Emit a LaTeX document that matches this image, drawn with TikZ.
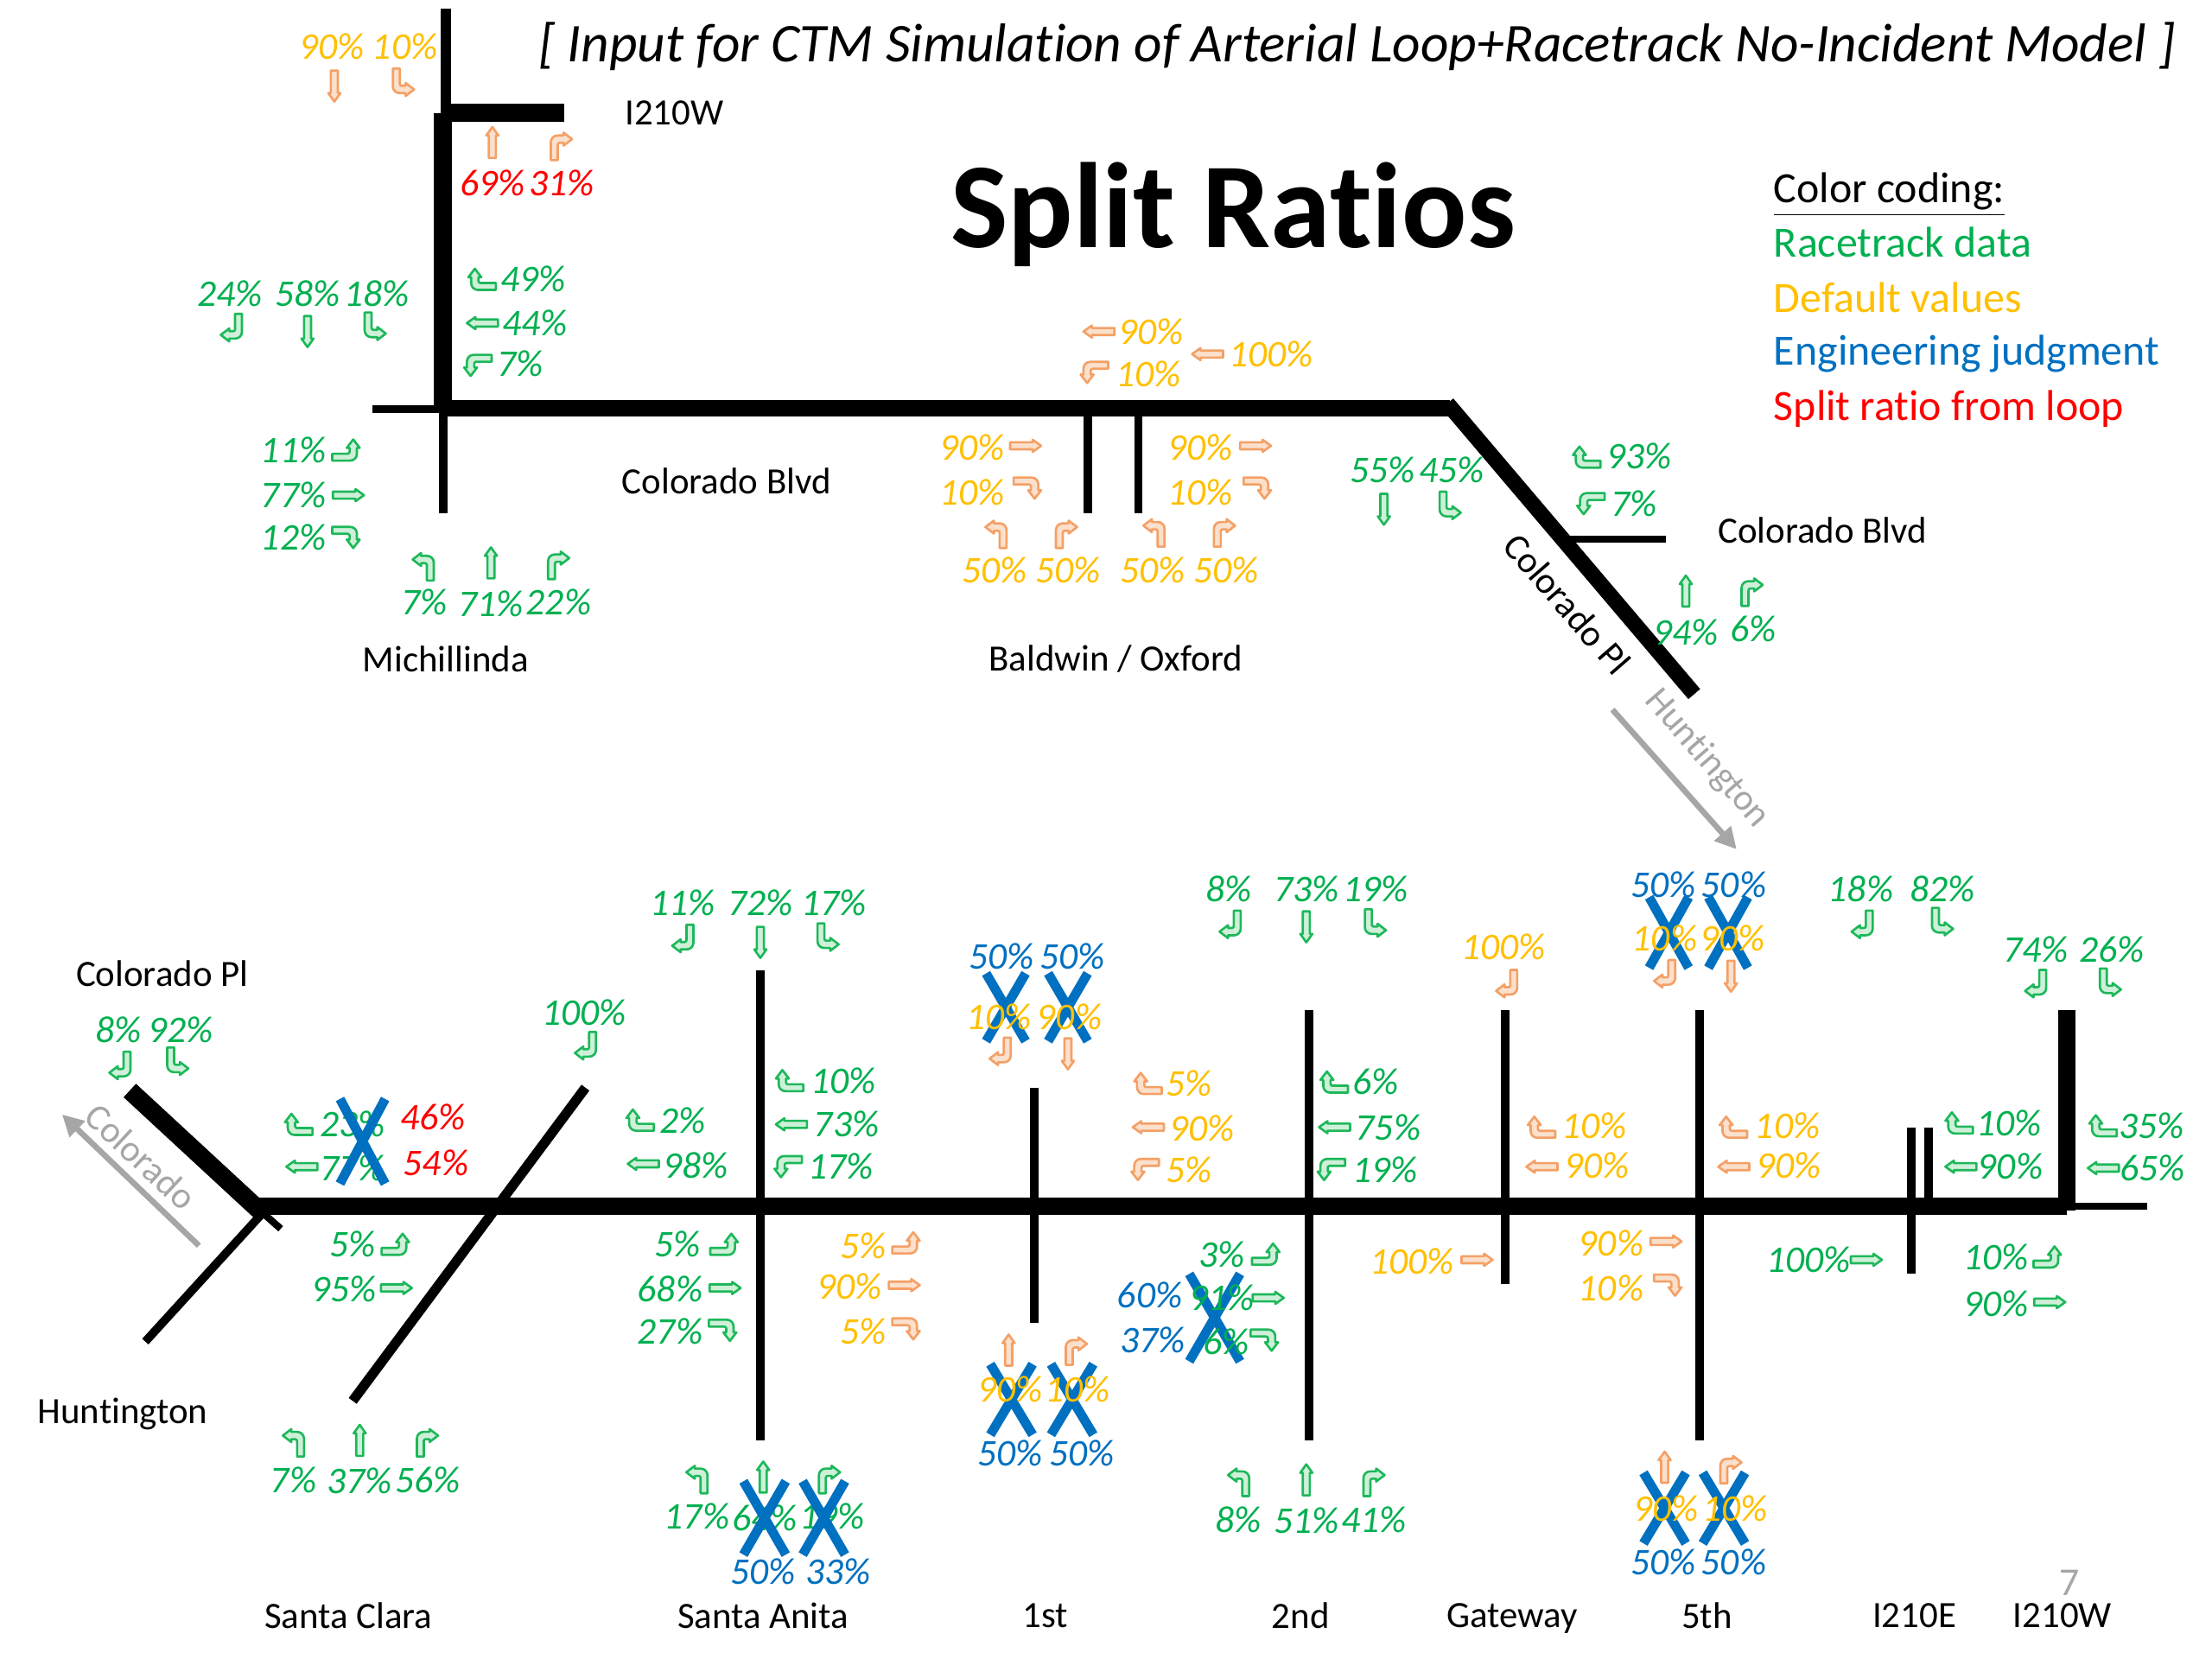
\documentclass[tikz,border=0pt]{standalone}
\usepackage{fontspec}
\setmainfont{Carlito}[Ligatures=NoCommon]
\usetikzlibrary{arrows.meta}
\definecolor{cG}{HTML}{00B050}
\definecolor{cY}{HTML}{FFC000}
\definecolor{cB}{HTML}{0070C0}
\definecolor{cR}{HTML}{FF0000}
\definecolor{aGl}{HTML}{1DB85A}
\definecolor{aGf}{HTML}{CFF0D8}
\definecolor{aOl}{HTML}{F4A066}
\definecolor{aOf}{HTML}{FBE0CC}
\definecolor{cGray}{HTML}{A6A6A6}
\newcounter{tn}
\tikzset{
 tU/.style={}, tD/.style={rotate=180}, tL/.style={rotate=90}, tR/.style={rotate=-90},
 tUR/.style={}, tUL/.style={xscale=-1}, tDL/.style={rotate=180}, tDR/.style={yscale=-1},
 tLU/.style={rotate=90}, tLD/.style={yscale=-1,rotate=90}, tRU/.style={xscale=-1,rotate=90}, tRD/.style={rotate=-90},
 arrG/.style={draw=aGl,fill=aGf,line width=0.75pt,line join=round},
 arrO/.style={draw=aOl,fill=aOf,line width=0.75pt,line join=round},
 pct/.style={font=\fontsize{12.4}{14}\selectfont\itshape,inner sep=0pt},
 lbl/.style={font=\fontsize{12.2}{14}\selectfont,inner sep=0pt,text=black},
 leg/.style={font=\fontsize{14.2}{17}\selectfont,inner sep=0pt,anchor=west},
 road/.style={draw=black,line width=#1*0.4646pt},
 xmark/.style={draw=cB,line width=3.1pt},
 grayarrow/.style={draw=cGray,line width=1.9pt,-{Triangle[length=7pt,width=7pt]}},
}
% turning arrow: type, colour style, position
\newcommand{\TA}[4]{\path[shift={(#2,#3)},#4,#1] (-7.5,9.5)
 [rounded corners=2.2pt] -- (-7.5,-8) [sharp corners] -- (1.5,-8) -- (1.5,-10) -- (7.5,-5.4) -- (1.5,-0.8) -- (1.5,-2.8)
 [rounded corners=0.6pt] -- (-2.6,-2.8) [sharp corners] -- (-2.6,9.5) -- cycle;}
% straight arrow
\newcommand{\SA}[4]{\path[shift={(#2,#3)},#4,#1] (-2.5,11) -- (-2.5,-5) -- (-4.3,-5) -- (0,-11) -- (4.3,-5) -- (2.5,-5) -- (2.5,11) -- cycle;}
\newcommand{\GT}[3]{\TA{t#1}{#2}{#3}{arrG}}
\newcommand{\OT}[3]{\TA{t#1}{#2}{#3}{arrO}}
\newcommand{\GS}[3]{\SA{t#1}{#2}{#3}{arrG}}
\newcommand{\OS}[3]{\SA{t#1}{#2}{#3}{arrO}}
\newcommand{\Pc}[4]{\stepcounter{tn}\node[pct,text=c#1] (t\thetn) at (#2,#3) {#4\%};}
\newcommand{\XX}[4]{\draw[xmark] (#1-#3,#2-#4) -- (#1+#3,#2+#4) (#1+#3,#2-#4) -- (#1-#3,#2+#4);}
\begin{document}
\begin{tikzpicture}[x=0.0163265cm,y=-0.0163265cm]
\useasboundingbox (0,0) rectangle (1568,1176);
\fill[white] (0,0) rectangle (1568,1176);
% crosses beneath the text
\XX{713}{714}{14}{24}\XX{757}{714}{14}{24}
\XX{717}{992}{15}{25}\XX{760}{992}{15}{25}
\XX{861}{934}{18}{31}
\XX{1183}{661}{14}{25}\XX{1225}{661}{14}{25}
\XX{1180}{1069}{15}{25}\XX{1222}{1069}{15}{25}
% upper network
\draw[road=7] (316,6) -- (316,80);
\draw[road=12.5] (314,80) -- (314,290);
\draw[road=12.7] (316,80) -- (400,80);
\draw[road=6] (264,290) -- (316,290);
\draw[road=12] (314,289.5) -- (1028,289.5);
\draw[road=6] (314,290) -- (314,364);
\draw[road=11] (1026,286) -- (1201,492);
\draw[road=5] (1113,382) -- (1181,382);
\draw[road=6] (771,292) -- (771,364);
\draw[road=6] (807,292) -- (807,364);
\draw[grayarrow] (1143,503) -- (1231,602);
\node[lbl,rotate=-49] (colpl) at (1111,428) {Colorado Pl};
\node[lbl,rotate=-49,text=cGray] (hunt) at (1210,538) {Huntington};
% lower network
\draw[road=12] (182,855) -- (1465,855);
\draw[road=5] (1465,855) -- (1522,855);
\draw[road=13] (92,773) -- (185,859);
\draw[road=5] (182,856) -- (199,871);
\draw[road=6] (103,951) -- (186,860);
\draw[road=7] (250,993) -- (415,771);
\draw[road=6] (539,688) -- (539,1021);
\draw[road=6] (733,771) -- (733,938);
\draw[road=6] (928,716) -- (928,1021);
\draw[road=6] (1067,716) -- (1067,910);
\draw[road=6] (1205,716) -- (1205,1021);
\draw[road=6] (1355,799) -- (1355,903);
\draw[road=6] (1367,799) -- (1367,855);
\draw[road=12] (1465,716) -- (1465,858);
\draw[grayarrow] (141,883) -- (44,790);
\node[lbl,rotate=-43,text=cGray] (colo) at (100,820) {Colorado};
% title
\node[inner sep=0pt,font=\fontsize{18}{20}\selectfont\itshape] (head) at (962,33) {[ Input for CTM Simulation of Arterial Loop+Racetrack No-Incident Model ]};
\node[inner sep=0pt,font=\fontsize{40}{46}\selectfont\bfseries] (title) at (874,152) {Split Ratios};
\node[leg,text=black] (lg0) at (1257,138) {\underline{Color coding:}};
\node[leg,text=cG] (lg1) at (1257,172) {Racetrack data};
\node[leg,text=cY] (lg2) at (1257,211) {Default values};
\node[leg,text=cB] (lg3) at (1257,251) {Engineering judgment};
\node[leg,text=cR] (lg4) at (1257,290) {Split ratio from loop};
% names
\node[lbl] (a1) at (478,80) {I210W};
\node[lbl] (a2) at (316,467) {Michillinda};
\node[lbl] (a3) at (515,341) {Colorado Blvd};
\node[lbl] (a4) at (791,467) {Baldwin / Oxford};
\node[lbl] (a5) at (1292,376) {Colorado Blvd};
\node[lbl] (a6) at (115,690) {Colorado Pl};
\node[lbl] (a7) at (87,1002) {Huntington};
\node[lbl] (a8) at (247,1145) {Santa Clara};
\node[lbl] (a9) at (541,1145) {Santa Anita};
\node[lbl] (a10) at (741,1145) {1st};
\node[lbl] (a11) at (922,1145) {2nd};
\node[lbl] (a12) at (1072,1147) {Gateway};
\node[lbl] (a13) at (1210,1145) {5th};
\node[lbl] (a14) at (1357,1145) {I210E};
\node[lbl] (a15) at (1462,1145) {I210W};
\node[inner sep=0pt,text=cGray,font=\fontsize{13}{15}\selectfont] (pg) at (1467,1122) {7};
% I210W / top approach
\Pc{Y}{235}{33}{90}\Pc{Y}{287}{33}{10}
\OS{D}{237}{61}\OT{DR}{286}{58}
\Pc{R}{349}{130}{69}\Pc{R}{398}{130}{31}
\OS{U}{349}{101}\OT{UR}{398}{104}
% Michillinda
\Pc{G}{378}{198}{49}\Pc{G}{379}{229}{44}\Pc{G}{369}{258}{7}
\GT{LU}{342}{198}\GS{L}{342}{229}\GT{LD}{339}{259}
\Pc{G}{163}{208}{24}\Pc{G}{218}{208}{58}\Pc{G}{267}{208}{18}
\GT{DL}{164}{232}\GS{D}{218}{235}\GT{DR}{266}{231}
\Pc{G}{208}{319}{11}\Pc{G}{208}{351}{77}\Pc{G}{208}{381}{12}
\GT{RU}{245}{319}\GS{R}{247}{351}\GT{RD}{245}{381}
\Pc{G}{301}{427}{7}\Pc{G}{348}{428}{71}\Pc{G}{396}{427}{22}
\GT{UL}{300}{402}\GS{U}{348}{399}\GT{UR}{396}{401}
% Baldwin / Oxford
\Pc{Y}{816}{235}{90}\OS{L}{779}{235}
\Pc{Y}{814}{265}{10}\OT{LD}{776}{264}
\Pc{Y}{901}{251}{100}\OS{L}{856}{251}
\Pc{Y}{689}{317}{90}\OS{R}{727}{316}
\Pc{Y}{689}{349}{10}\OT{RD}{728}{346}
\Pc{Y}{851}{317}{90}\OS{R}{890}{316}
\Pc{Y}{851}{349}{10}\OT{RD}{891}{346}
\OT{UL}{706}{379}\OT{UR}{756}{379}\OT{UL}{818}{378}\OT{UR}{868}{378}
\Pc{Y}{705}{404}{50}\Pc{Y}{757}{404}{50}\Pc{Y}{817}{404}{50}\Pc{Y}{869}{404}{50}
% Colorado Blvd / Colorado Pl
\Pc{G}{980}{333}{55}\Pc{G}{1029}{333}{45}
\GS{D}{981}{361}\GT{DR}{1028}{358}
\Pc{G}{1162}{323}{93}\GT{LU}{1125}{324}
\Pc{G}{1158}{357}{7}\GT{LD}{1128}{357}
\Pc{G}{1195}{448}{94}\Pc{G}{1243}{446}{6}
\GS{U}{1195}{419}\GT{UR}{1242}{420}
% Colorado Pl (lower left)
\Pc{G}{84}{730}{8}\Pc{G}{128}{730}{92}
\GT{DL}{85}{755}\GT{DR}{126}{752}
\Pc{G}{414}{718}{100}\GT{DL}{415}{741}
% Santa Clara
\Pc{G}{250}{797}{23}\Pc{G}{250}{828}{77}
\GT{LU}{212}{797}\GS{L}{214}{827}
\Pc{R}{307}{792}{46}\Pc{R}{309}{824}{54}
\Pc{G}{250}{882}{5}\GT{RU}{280}{882}
\Pc{G}{244}{914}{95}\GS{R}{281}{913}
\GT{UL}{208}{1023}\GS{U}{255}{1021}\GT{UR}{303}{1023}
\Pc{G}{208}{1049}{7}\Pc{G}{255}{1050}{37}\Pc{G}{303}{1049}{56}
% Santa Anita
\Pc{G}{484}{794}{2}\GT{LU}{454}{794}
\Pc{G}{493}{826}{98}\GS{L}{456}{825}
\Pc{G}{480}{882}{5}\GT{RU}{513}{882}
\Pc{G}{475}{914}{68}\GS{R}{514}{913}
\Pc{G}{475}{944}{27}\GT{RD}{512}{943}
\Pc{G}{484}{640}{11}\Pc{G}{539}{640}{72}\Pc{G}{591}{640}{17}
\GT{DL}{484}{665}\GS{D}{539}{668}\GT{DR}{587}{664}
\Pc{G}{598}{766}{10}\Pc{G}{600}{797}{73}\Pc{G}{596}{827}{17}
\GT{LU}{560}{766}\GS{L}{561}{797}\GT{LD}{559}{827}
\GT{UL}{494}{1049}\GS{U}{541}{1047}\GT{UR}{588}{1049}
\Pc{G}{494}{1075}{17}\Pc{G}{542}{1076}{64}\Pc{G}{590}{1075}{19}
\Pc{B}{541}{1114}{50}\Pc{B}{594}{1114}{33}
% 1st
\Pc{Y}{612}{883}{5}\OT{RU}{642}{881}
\Pc{Y}{602}{912}{90}\OS{R}{641}{911}
\Pc{Y}{612}{944}{5}\OT{RD}{642}{942}
\Pc{B}{710}{678}{50}\Pc{B}{760}{678}{50}
\Pc{Y}{708}{721}{10}\Pc{Y}{758}{721}{90}
\OT{DL}{709}{745}\OS{D}{757}{747}
\OS{U}{715}{957}\OT{UR}{763}{958}
\Pc{Y}{716}{985}{90}\Pc{Y}{764}{985}{10}
\Pc{B}{716}{1030}{50}\Pc{B}{767}{1030}{50}
\Pc{Y}{843}{768}{5}\OT{LU}{814}{768}
\Pc{Y}{852}{800}{90}\OS{L}{814}{799}
\Pc{Y}{843}{829}{5}\OT{LD}{812}{829}
% 2nd
\Pc{G}{975}{767}{6}\GT{LU}{946}{767}
\Pc{G}{984}{799}{75}\GS{L}{946}{799}
\Pc{G}{982}{829}{19}\GT{LD}{944}{829}
\Pc{G}{866}{889}{3}\GT{RU}{897}{889}
\Pc{G}{866}{920}{91}\GS{R}{899}{920}
\Pc{G}{869}{951}{6}\GT{RD}{896}{950}
\Pc{B}{815}{918}{60}\Pc{B}{817}{950}{37}
\Pc{G}{871}{630}{8}\Pc{G}{926}{630}{73}\Pc{G}{975}{630}{19}
\GT{DL}{872}{655}\GS{D}{926}{657}\GT{DR}{975}{654}
\GT{UL}{878}{1051}\GS{U}{926}{1049}\GT{UR}{974}{1051}
\Pc{G}{878}{1077}{8}\Pc{G}{926}{1078}{51}\Pc{G}{974}{1077}{41}
% Gateway
\Pc{Y}{1066}{671}{100}\OT{DL}{1068}{697}
\Pc{Y}{1130}{798}{10}\OT{LU}{1093}{799}
\Pc{Y}{1132}{826}{90}\OS{L}{1093}{827}
\Pc{Y}{1001}{894}{100}\OS{R}{1047}{893}
% 5th
\Pc{Y}{1142}{881}{90}\OS{R}{1181}{880}
\Pc{Y}{1142}{913}{10}\OT{RD}{1182}{911}
\Pc{Y}{1267}{798}{10}\OT{LU}{1229}{799}
\Pc{Y}{1268}{826}{90}\OS{L}{1229}{827}
\Pc{B}{1179}{627}{50}\Pc{B}{1229}{627}{50}
\Pc{Y}{1180}{665}{10}\Pc{Y}{1228}{665}{90}
\OT{DL}{1180}{690}\OS{D}{1227}{692}
\OS{U}{1180}{1040}\OT{UR}{1227}{1042}
\Pc{Y}{1181}{1069}{90}\Pc{Y}{1230}{1069}{10}
\Pc{B}{1179}{1107}{50}\Pc{B}{1229}{1107}{50}
% I210E / I210W
\Pc{G}{1319}{630}{18}\Pc{G}{1377}{630}{82}
\GT{DL}{1320}{655}\GT{DR}{1377}{653}
\Pc{G}{1443}{673}{74}\Pc{G}{1497}{673}{26}
\GT{DL}{1443}{697}\GT{DR}{1496}{696}
\Pc{G}{1424}{796}{10}\GT{LU}{1389}{796}
\Pc{G}{1425}{827}{90}\GS{L}{1390}{827}
\Pc{G}{1525}{798}{35}\GT{LU}{1491}{798}
\Pc{G}{1526}{828}{65}\GS{L}{1491}{828}
\Pc{G}{1282}{893}{100}\GS{R}{1323}{893}
\Pc{G}{1415}{891}{10}\GT{RU}{1451}{891}
\Pc{G}{1415}{924}{90}\GS{R}{1453}{923}
% crosses above the text
\XX{257}{809}{16}{30}
\XX{542}{1076}{15}{26}\XX{584}{1076}{15}{26}
\end{tikzpicture}
\end{document}
